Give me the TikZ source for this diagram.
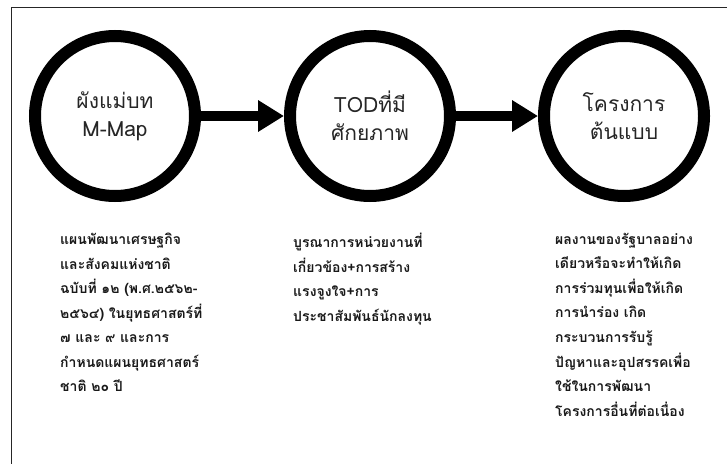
\documentclass[tikz,border=0pt]{standalone}
\usepackage{fontspec}
\usetikzlibrary{arrows.meta}
\newfontfamily\thaifont[Script=Thai]{Loma}
\begin{document}
\begin{tikzpicture}[x=1pt,y=-1pt,
  stage/.style={circle,draw=black,line width=12pt,minimum size=160pt,inner sep=0pt,
    align=center,text=black!85,font=\thaifont\fontsize{21}{28}\selectfont},
  flow/.style={line width=10pt,-{Triangle[length=26pt,width=30pt]}},
  note/.style={anchor=north west,align=left,inner sep=0pt,text=black!90,
    font=\thaifont\bfseries\fontsize{14}{24.5}\selectfont},
  frame/.style={draw=black!85,line width=1.6pt}]
\useasboundingbox (0,0) rectangle (727,463);
% outer frame, running past the lower and right edges
\begin{scope}
  \clip (0,0) rectangle (727,463);
  \draw[frame] (11.5,7.5) rectangle (760,500);
\end{scope}
% the three stages
\node[stage] (c1) at (115,116) {ผังแม่บท\\M-Map};
\node[stage] (c2) at (370,116) {TODที่มี\\ศักยภาพ};
\node[stage] (c3) at (624,116) {โครงการ\\ต้นแบบ};
\draw[flow] (c1) -- (c2);
\draw[flow] (c2) -- (c3);
% notes under each stage
\node[note] (t1) at (60,233) {แผนพัฒนาเศรษฐกิจ\\และสังคมแห่งชาติ\\ฉบับที่ ๑๒ (พ.ศ.๒๕๖๒-\\๒๕๖๔) ในยุทธศาสตร์ที่\\๗ และ ๙ และการ\\กำหนดแผนยุทธศาสตร์\\ชาติ ๒๐ ปี};
\node[note] (t2) at (293,233) {บูรณาการหน่วยงานที่\\เกี่ยวข้อง+การสร้าง\\แรงจูงใจ+การ\\ประชาสัมพันธ์นักลงทุน};
\node[note] (t3) at (555,233) {ผลงานของรัฐบาลอย่าง\\เดียวหรือจะทำให้เกิด\\การร่วมทุนเพื่อให้เกิด\\การนำร่อง เกิด\\กระบวนการรับรู้\\ปัญหาและอุปสรรคเพื่อ\\ใช้ในการพัฒนา\\โครงการอื่นที่ต่อเนื่อง};
\end{tikzpicture}
\end{document}
